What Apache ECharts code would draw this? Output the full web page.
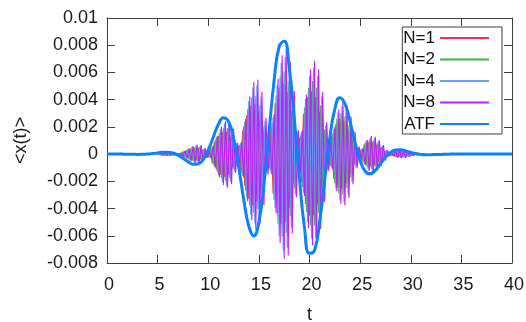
<!DOCTYPE html>
<html>
<head>
<meta charset="utf-8">
<script src="https://cdn.jsdelivr.net/npm/echarts@6.0.0/dist/echarts.min.js"></script>
<style>
  html, body { margin: 0; padding: 0; background: #fff; }
  #chart { width: 526px; height: 322px; }
</style>
</head>
<body>
<div id="chart"></div>
<script>
// values in units of 1e-3 (the y axis labels convert back)
const seriesNames = ['N=1', 'N=2', 'N=4', 'N=8', 'ATF'];

// oscillation extrema, one every carrierStep in t, from each series' start
const carrierStep = 0.2;
const carrierStart = [5.0, 5.1, 5.2, 5.3];

const n1Milli = [
  0.05, -0.06, 0.07, -0.08, 0.08, -0.08, 0.07, -0.06, 0.03, -0.03, 0.04, -0.09,
  0.15, -0.22, 0.28, -0.34, 0.40, -0.44, 0.47, -0.47, 0.45, -0.39, 0.30, -0.19,
  0.16, -0.22, 0.42, -0.66, 0.90, -1.14, 1.35, -1.52, 1.63, -1.67, 1.63, -1.49,
  1.26, -0.93, 0.56, -0.50, 0.59, -1.16, 1.76, -2.34, 2.85, -3.27, 3.57, -3.72,
  3.69, -3.48, 3.09, -2.52, 1.80, -0.99, 0.74, -1.02, 1.97, -2.90, 3.73, -4.41,
  4.90, -5.18, 5.21, -5.01, 4.58, -3.93, 3.11, -2.14, 1.18, -0.93, 1.18, -2.07,
  2.95, -3.67, 4.20, -4.52, 4.62, -4.51, 4.20, -3.71, 3.09, -2.36, 1.58, -0.84,
  0.62, -0.78, 1.34, -1.85, 2.23, -2.47, 2.57, -2.55, 2.40, -2.17, 1.86, -1.49,
  1.11, -0.72, 0.37, -0.25, 0.31, -0.53, 0.71, -0.83, 0.89, -0.90, 0.86, -0.79,
  0.69, -0.57, 0.45, -0.32, 0.20, -0.10, 0.07, -0.09, 0.13, -0.17, 0.19, -0.20,
  0.19, -0.18, 0.16, -0.14, 0.11, -0.08, 0.06, -0.03, 0.02, -0.01, 0.01, -0.02
];
const n2Milli = [
  0.06, -0.07, 0.09, -0.09, 0.10, -0.10, 0.09, -0.07, 0.04, -0.04, 0.05, -0.11,
  0.18, -0.25, 0.32, -0.40, 0.46, -0.51, 0.54, -0.55, 0.52, -0.45, 0.34, -0.22,
  0.18, -0.25, 0.49, -0.77, 1.05, -1.32, 1.57, -1.77, 1.90, -1.94, 1.89, -1.74,
  1.46, -1.08, 0.65, -0.58, 0.68, -1.35, 2.05, -2.71, 3.31, -3.80, 4.15, -4.32,
  4.28, -4.04, 3.59, -2.93, 2.09, -1.15, 0.86, -1.19, 2.29, -3.37, 4.33, -5.12,
  5.69, -6.01, 6.06, -5.82, 5.32, -4.57, 3.61, -2.49, 1.37, -1.08, 1.37, -2.41,
  3.43, -4.26, 4.88, -5.25, 5.37, -5.24, 4.87, -4.31, 3.59, -2.74, 1.83, -0.97,
  0.72, -0.90, 1.56, -2.15, 2.59, -2.87, 2.99, -2.96, 2.79, -2.52, 2.15, -1.74,
  1.29, -0.83, 0.43, -0.29, 0.36, -0.62, 0.83, -0.97, 1.04, -1.05, 1.00, -0.92,
  0.80, -0.66, 0.52, -0.37, 0.23, -0.12, 0.09, -0.10, 0.15, -0.20, 0.22, -0.23,
  0.23, -0.21, 0.19, -0.16, 0.13, -0.10, 0.07, -0.04, 0.02, -0.01, 0.01, -0.02
];
const n4Milli = [
  0.07, -0.09, 0.10, -0.11, 0.11, -0.11, 0.10, -0.08, 0.05, -0.04, 0.06, -0.13,
  0.21, -0.29, 0.38, -0.47, 0.55, -0.61, 0.64, -0.65, 0.61, -0.53, 0.40, -0.26,
  0.21, -0.30, 0.58, -0.90, 1.24, -1.56, 1.85, -2.08, 2.24, -2.30, 2.24, -2.05,
  1.73, -1.27, 0.77, -0.68, 0.81, -1.59, 2.42, -3.20, 3.91, -4.49, 4.90, -5.10,
  5.06, -4.77, 4.23, -3.46, 2.46, -1.36, 1.02, -1.40, 2.71, -3.98, 5.11, -6.04,
  6.72, -7.10, 7.15, -6.87, 6.28, -5.39, 4.26, -2.94, 1.62, -1.28, 1.62, -2.84,
  4.05, -5.03, 5.76, -6.20, 6.34, -6.18, 5.75, -5.09, 4.23, -3.24, 2.16, -1.15,
  0.85, -1.06, 1.84, -2.54, 3.05, -3.38, 3.52, -3.49, 3.30, -2.97, 2.54, -2.05,
  1.52, -0.98, 0.51, -0.34, 0.43, -0.73, 0.98, -1.14, 1.22, -1.24, 1.18, -1.08,
  0.95, -0.78, 0.61, -0.44, 0.27, -0.14, 0.10, -0.12, 0.18, -0.23, 0.26, -0.27,
  0.27, -0.25, 0.22, -0.19, 0.15, -0.11, 0.08, -0.05, 0.03, -0.02, 0.02, -0.03
];
const n8Milli = [
  0.08, -0.10, 0.11, -0.12, 0.12, -0.12, 0.11, -0.09, 0.05, -0.05, 0.06, -0.14,
  0.23, -0.32, 0.41, -0.51, 0.59, -0.66, 0.69, -0.70, 0.66, -0.58, 0.44, -0.28,
  0.23, -0.32, 0.62, -0.98, 1.34, -1.69, 2.00, -2.26, 2.42, -2.48, 2.42, -2.22,
  1.87, -1.38, 0.83, -0.74, 0.87, -1.72, 2.61, -3.47, 4.23, -4.86, 5.30, -5.52,
  5.47, -5.16, 4.58, -3.74, 2.67, -1.47, 1.10, -1.52, 2.93, -4.31, 5.53, -6.54,
  7.27, -7.68, 7.74, -7.44, 6.79, -5.83, 4.61, -3.18, 1.75, -1.38, 1.75, -3.07,
  4.38, -5.45, 6.23, -6.71, 6.86, -6.69, 6.23, -5.51, 4.58, -3.51, 2.34, -1.24,
  0.92, -1.15, 1.99, -2.74, 3.30, -3.66, 3.81, -3.78, 3.57, -3.22, 2.75, -2.22,
  1.64, -1.06, 0.55, -0.37, 0.46, -0.79, 1.06, -1.24, 1.33, -1.34, 1.28, -1.17,
  1.02, -0.85, 0.66, -0.47, 0.30, -0.15, 0.11, -0.13, 0.20, -0.25, 0.29, -0.30,
  0.29, -0.27, 0.24, -0.20, 0.16, -0.12, 0.08, -0.05, 0.03, -0.02, 0.02, -0.03
];

// ATF curve sampled every atfStep from t = 0 to 40
const atfStep = 0.5;
const atfMilli = [
  0, 0, 0, 0, -0.01, -0.01, -0.02, -0.01, 0.01, 0.04,
  0.09, 0.13, 0.13, 0.08, -0.07, -0.30, -0.55, -0.74, -0.72, -0.38,
  0.32, 1.26, 2.18, 2.68, 2.41, 1.17, -0.91, -3.31, -5.28, -6.01,
  -4.98, -2.23, 1.60, 5.38, 7.90, 8.29, 6.34, 2.62, -1.73, -5.38,
  -7.29, -7.06, -4.98, -1.90, 1.16, 3.31, 4.15, 3.70, 2.41, 0.85,
  -0.48, -1.26, -1.45, -1.20, -0.72, -0.23, 0.12, 0.30, 0.32, 0.24,
  0.13, 0.04, -0.02, -0.04, -0.04, -0.03, -0.02, -0.01, 0, 0,
  0, 0, 0, 0, 0, 0, 0, 0, 0, 0,
  0
];

const colors = ['#f2384e', '#3fb43f', '#6a9eff', '#c21cff', '#0a82ff'];
const font = 'Liberation Sans, Arial, sans-serif';
const frame = '#404040';

function carrierData(start, vals) {
  return vals.map((v, i) => [start + i * carrierStep, v]);
}

const carrierSets = [n1Milli, n2Milli, n4Milli, n8Milli];
const series = [];
carrierSets.forEach((vals, k) => {
  series.push({
    name: seriesNames[k],
    type: 'line',
    symbol: 'none',
    data: carrierData(carrierStart[k], vals),
    lineStyle: { color: colors[k], width: 1.1 },
    itemStyle: { color: colors[k] }
  });
});
series.push({
  name: seriesNames[4],
  type: 'line',
  symbol: 'none',
  smooth: true,
  data: atfMilli.map((v, i) => [i * atfStep, v]),
  lineStyle: { color: colors[4], width: 3 },
  itemStyle: { color: colors[4] }
});

const tickStyle = { inside: true, length: 8, lineStyle: { color: frame } };
const lineStyle = { show: true, onZero: false, lineStyle: { color: frame, width: 1 } };
const labelStyle = { fontSize: 18, color: '#1a1a1a', fontFamily: font };

const chart = echarts.init(document.getElementById('chart'), null, { renderer: 'canvas' });
chart.setOption({
  animation: false,
  grid: { left: 107, right: 14, top: 18, bottom: 59, containLabel: false, outerBoundsMode: 'none' },
  legend: {
    orient: 'vertical',
    right: 24,
    top: 27,
    align: 'right',
    itemWidth: 49,
    itemHeight: 14,
    itemGap: 1.5,
    padding: [1, 12, 0, 1],
    borderColor: frame,
    borderWidth: 1,
    backgroundColor: '#fff',
    itemStyle: { opacity: 0 },
    textStyle: { fontSize: 17, lineHeight: 20, color: '#111', fontFamily: font },
    data: seriesNames
  },
  xAxis: [
    {
      type: 'value', min: 0, max: 40, interval: 5, position: 'bottom',
      name: 't', nameLocation: 'middle', nameGap: 43,
      nameTextStyle: labelStyle,
      axisLine: lineStyle, axisTick: tickStyle, splitLine: { show: false },
      axisLabel: Object.assign({ margin: 13, padding: [0, 0, 0, 4] }, labelStyle)
    },
    {
      type: 'value', min: 0, max: 40, interval: 5, position: 'top',
      axisLine: lineStyle, axisTick: tickStyle, splitLine: { show: false },
      axisLabel: { show: false }
    }
  ],
  yAxis: [
    {
      type: 'value', min: -8, max: 10, interval: 2, position: 'left',
      name: '<x(t)>', nameLocation: 'middle', nameGap: 77,
      nameTextStyle: labelStyle,
      axisLine: lineStyle, axisTick: tickStyle, splitLine: { show: false },
      axisLabel: Object.assign({ margin: 9, formatter: v => String(v / 1000) }, labelStyle)
    },
    {
      type: 'value', min: -8, max: 10, interval: 2, position: 'right',
      axisLine: lineStyle, axisTick: tickStyle, splitLine: { show: false },
      axisLabel: { show: false }
    }
  ],
  series: series
});
</script>
</body>
</html>
